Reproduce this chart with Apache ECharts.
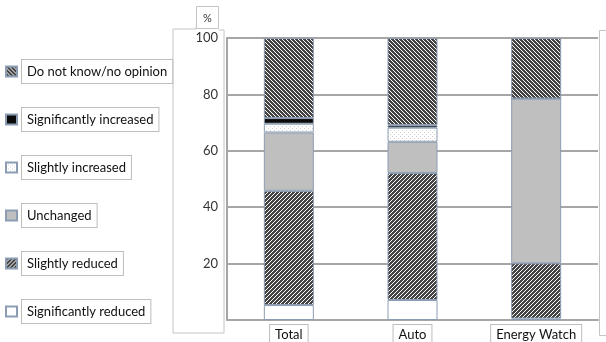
<!DOCTYPE html>
<html>
<head>
<meta charset="utf-8">
<script src="https://cdn.jsdelivr.net/npm/echarts@6/dist/echarts.min.js"></script>
<style>
html,body{margin:0;padding:0;background:#fff;}
#chart{width:606px;height:342px;}
</style>
</head>
<body>
<div id="chart"></div>
<script>
// ---- data ----
const categories = ['Total', 'Auto', 'Energy Watch'];
const significantlyReduced = [5.3, 7.1, 0.5];
const slightlyReduced = [40.5, 45.0, 19.6];
const unchanged = [20.7, 11.1, 58.4];
const slightlyIncreased = [3.1, 5.0, 0];
const significantlyIncreased = [2.0, 0.9, 0];
const doNotKnow = [28.4, 30.9, 21.5];
const yTicks = [20, 40, 60, 80, 100];
const legendOrder = ['Do not know/no opinion', 'Significantly increased', 'Slightly increased', 'Unchanged', 'Slightly reduced', 'Significantly reduced'];

// ---- patterns ----
function makePattern(fn) {
  const c = document.createElement('canvas');
  c.width = 4; c.height = 4;
  const ctx = c.getContext('2d');
  for (let x = 0; x < 4; x++) for (let y = 0; y < 4; y++) {
    ctx.fillStyle = fn(x, y);
    ctx.fillRect(x, y, 1, 1);
  }
  return { image: c, repeat: 'repeat' };
}
const hatchUp = makePattern((x, y) => ((x + y) % 4 === 3 ? '#ffffff' : '#444444'));
const hatchDown = makePattern((x, y) => (((x - y + 8) % 4) === 3 ? '#ffffff' : '#444444'));
const dots = makePattern((x, y) => ((x === 0 && y === 0) || (x === 2 && y === 2) ? '#cfcfcf' : '#ffffff'));

const border = '#8c9db3';
function barSeries(name, data, color) {
  return {
    name, type: 'bar', stack: 'all', data, barWidth: 50,
    itemStyle: { color, borderColor: border, borderWidth: 1 },
    emphasis: { disabled: true }
  };
}

const chart = echarts.init(document.getElementById('chart'), null, { renderer: 'canvas' });
chart.setOption({
  animation: false,
  textStyle: { fontFamily: 'Lato' },
  grid: { left: 227, right: 8, top: 38, bottom: 22, containLabel: false, outerBoundsMode: 'none' },
  legend: {
    orient: 'vertical', left: 5, top: 59, padding: 0,
    data: legendOrder,
    icon: 'rect', itemWidth: 11, itemHeight: 10, itemGap: 23,
    selectedMode: false,
    textStyle: {
      fontFamily: 'Lato', fontSize: 13, color: '#111', lineHeight: 15,
      backgroundColor: '#fff', borderColor: '#bdbdbd', borderWidth: 1,
      padding: [4, 5, 4, 5]
    }
  },
  xAxis: {
    type: 'category', data: categories,
    axisLine: { lineStyle: { color: '#a6a6a6', width: 2 } },
    axisTick: { show: false },
    axisLabel: {
      fontFamily: 'Lato', fontSize: 13, color: '#111', margin: 5,
      backgroundColor: '#fff', borderColor: '#bdbdbd', borderWidth: 1,
      padding: [3, 5, 3, 5]
    }
  },
  yAxis: {
    type: 'value', min: 0, max: 100, interval: 20,
    axisLine: { show: true, lineStyle: { color: '#a6a6a6', width: 2 } },
    axisTick: { show: false },
    splitLine: { lineStyle: { color: '#a6a6a6', width: 2 } },
    axisLabel: {
      fontFamily: 'Lato', fontSize: 13, color: '#333', margin: 9,
      formatter: v => (yTicks.indexOf(v) >= 0 ? String(v) : '')
    }
  },
  graphic: [
    { type: 'polyline', shape: { points: [[173, 333], [173, 29], [196, 29], [196, 27]] }, style: { stroke: '#c4c4c4', fill: null, lineWidth: 1 }, z: 0 },
    { type: 'polyline', shape: { points: [[173, 333], [224, 333], [224, 30], [219, 30]] }, style: { stroke: '#c4c4c4', fill: null, lineWidth: 1 }, z: 0 },
    { type: 'rect', shape: { x: 196.5, y: 6.5, width: 22, height: 22 }, style: { stroke: '#c4c4c4', fill: '#fff', lineWidth: 1 }, z: 1 },
    { type: 'text', x: 207.5, y: 18, style: { text: '%', font: '11px Lato', fill: '#333', textAlign: 'center', textVerticalAlign: 'middle' }, z: 2 },
    { type: 'polyline', shape: { points: [[606, 30.5], [599.5, 30.5], [599.5, 335.5], [606, 335.5]] }, style: { stroke: '#c4c4c4', fill: null, lineWidth: 1 }, z: 0 }
  ],
  series: [
    barSeries('Significantly reduced', significantlyReduced, '#ffffff'),
    barSeries('Slightly reduced', slightlyReduced, hatchUp),
    barSeries('Unchanged', unchanged, '#bfbfbf'),
    barSeries('Slightly increased', slightlyIncreased, dots),
    barSeries('Significantly increased', significantlyIncreased, '#0a0a0a'),
    barSeries('Do not know/no opinion', doNotKnow, hatchDown)
  ]
});
</script>
</body>
</html>
